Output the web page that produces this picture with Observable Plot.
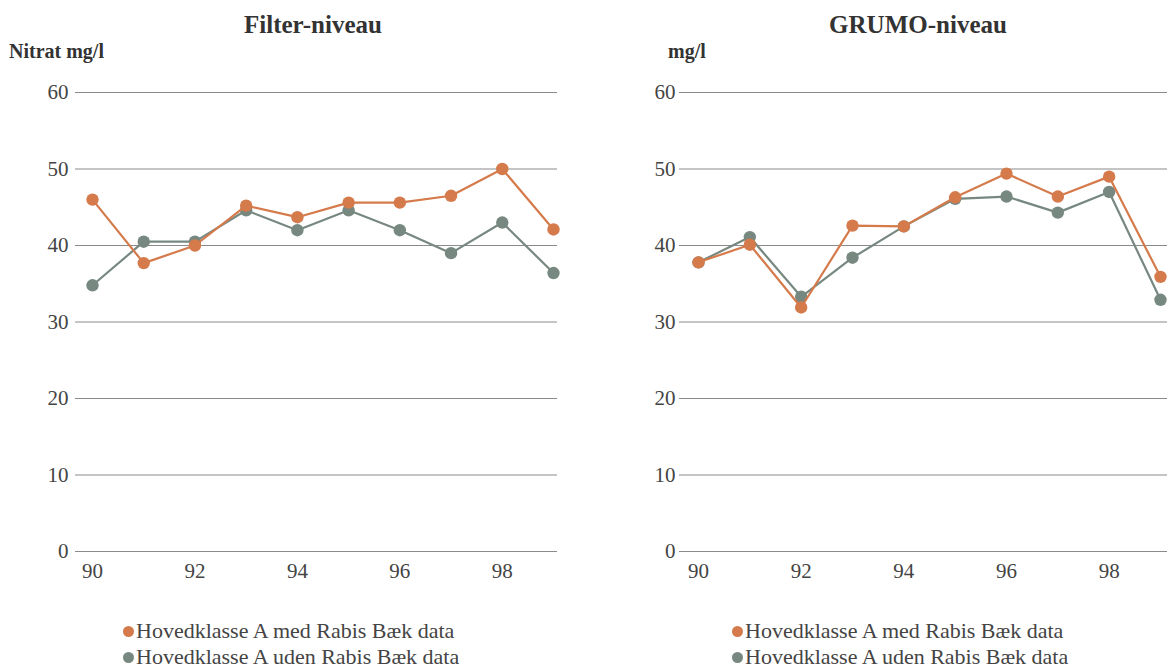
<!DOCTYPE html>
<html>
<head>
<meta charset="utf-8">
<script src="https://cdn.jsdelivr.net/npm/d3@7"></script>
<script src="https://cdn.jsdelivr.net/npm/@observablehq/plot@0.6"></script>
<style>
  html, body { margin:0; padding:0; background:#fff; font-family:'Liberation Serif', 'Times New Roman', serif; }
  .abs { position:absolute; white-space:nowrap; line-height:1; }
</style>
</head>
<body>
<div id="wrap" style="position:relative; width:1167px; height:669px; color:#333; overflow:hidden; font-family:'Liberation Serif', 'Times New Roman', serif;">
  <div id="left" class="abs" style="left:0;top:0"></div>
  <div id="right" class="abs" style="left:600px;top:0"></div>
  <div class="abs" style="left:313px;top:12px;transform:translateX(-50%);font-family:'Liberation Serif', 'Times New Roman', serif;font-weight:bold;font-size:25px;color:#333">Filter-niveau</div>
  <div class="abs" style="left:918px;top:12px;transform:translateX(-50%);font-family:'Liberation Serif', 'Times New Roman', serif;font-weight:bold;font-size:25px;color:#333">GRUMO-niveau</div>
  <div class="abs" style="left:9px;top:41px;font-family:'Liberation Serif', 'Times New Roman', serif;font-weight:bold;font-size:20px;color:#333">Nitrat mg/l</div>
  <div class="abs" style="left:668px;top:41px;font-family:'Liberation Serif', 'Times New Roman', serif;font-weight:bold;font-size:20px;color:#333">mg/l</div>
  <div id="legL" class="abs" style="left:123px;top:620px"></div>
  <div id="legR" class="abs" style="left:732px;top:620px"></div>
</div>
<script>
const years = [90, 91, 92, 93, 94, 95, 96, 97, 98, 99];
const xTicks = [90, 92, 94, 96, 98];
const yTicks = [0, 10, 20, 30, 40, 50, 60];
const seriesNames = ["Hovedklasse A med Rabis Bæk data", "Hovedklasse A uden Rabis Bæk data"];
const filterMed  = [46.0, 37.7, 40.0, 45.2, 43.7, 45.6, 45.6, 46.5, 50.0, 42.1];
const filterUden = [34.8, 40.5, 40.5, 44.6, 42.0, 44.6, 42.0, 39.0, 43.0, 36.4];
const grumoMed   = [37.8, 40.1, 31.9, 42.6, 42.5, 46.3, 49.4, 46.4, 49.0, 35.9];
const grumoUden  = [37.8, 41.1, 33.3, 38.4, 42.5, 46.1, 46.4, 44.3, 47.0, 32.9];
const colors = ["#d57a4b", "#778880"];
const FONT = "'Liberation Serif', 'Times New Roman', serif";

function panel(med, uden, o) {
  const rows = [];
  years.forEach((y, i) => {
    rows.push({year: y, value: med[i], series: seriesNames[0]});
    rows.push({year: y, value: uden[i], series: seriesNames[1]});
  });
  const grayRows = rows.filter(d => d.series === seriesNames[1]);
  const orangeRows = rows.filter(d => d.series === seriesNames[0]);
  const svg = Plot.plot({
    width: o.width, height: 591,
    marginTop: 92, marginBottom: 40, marginLeft: o.marginLeft, marginRight: o.marginRight,
    style: `font-family:${FONT}; font-size:21px; color:#444; background:transparent; overflow:visible;`,
    x: {domain: [90, 99], insetLeft: o.insetLeft, insetRight: o.insetRight},
    y: {domain: [0, 60]},
    color: {domain: seriesNames, range: colors},
    marks: [
      Plot.gridY(yTicks, {stroke: "#8a8a8a", strokeOpacity: 1, strokeWidth: 1}),
      Plot.axisY(yTicks, {tickSize: 0, tickPadding: o.yPad, label: null, tickFormat: d => String(d), fontSize: 21}),
      Plot.axisX(xTicks, {tickSize: 0, tickPadding: 12, label: null, tickFormat: d => String(d), fontSize: 21}),
      Plot.line(grayRows, {x: "year", y: "value", stroke: "series", strokeWidth: 2.2}),
      Plot.dot(grayRows, {x: "year", y: "value", fill: "series", r: 6.2}),
      Plot.line(orangeRows, {x: "year", y: "value", stroke: "series", strokeWidth: 2.2}),
      Plot.dot(orangeRows, {x: "year", y: "value", fill: "series", r: 6.2})
    ]
  });
  svg.querySelectorAll("text").forEach(t => t.style.fontFamily = FONT);
  return svg;
}

document.getElementById("left").appendChild(panel(filterMed, filterUden,
  {width: 590, marginLeft: 75, marginRight: 33, insetLeft: 17, insetRight: 4, yPad: 7}));
document.getElementById("right").appendChild(panel(grumoMed, grumoUden,
  {width: 567, marginLeft: 79, marginRight: 0, insetLeft: 19, insetRight: 7, yPad: 4}));

function legend(el) {
  seriesNames.forEach((name, i) => {
    const row = document.createElement("div");
    row.style.cssText = `position:absolute; left:0; top:${i * 26}px; height:26px; white-space:nowrap; line-height:1;`;
    const dot = document.createElement("span");
    dot.style.cssText = `position:absolute; left:0; top:5.5px; width:11px; height:11px; border-radius:50%; background:${colors[i]};`;
    row.appendChild(dot);
    const t = document.createElement("span");
    t.style.cssText = `position:absolute; left:13px; top:0; font-family:${FONT}; font-size:22px; color:#444;`;
    t.textContent = name;
    row.appendChild(t);
    el.appendChild(row);
  });
}
legend(document.getElementById("legL"));
legend(document.getElementById("legR"));
</script>
</body>
</html>
